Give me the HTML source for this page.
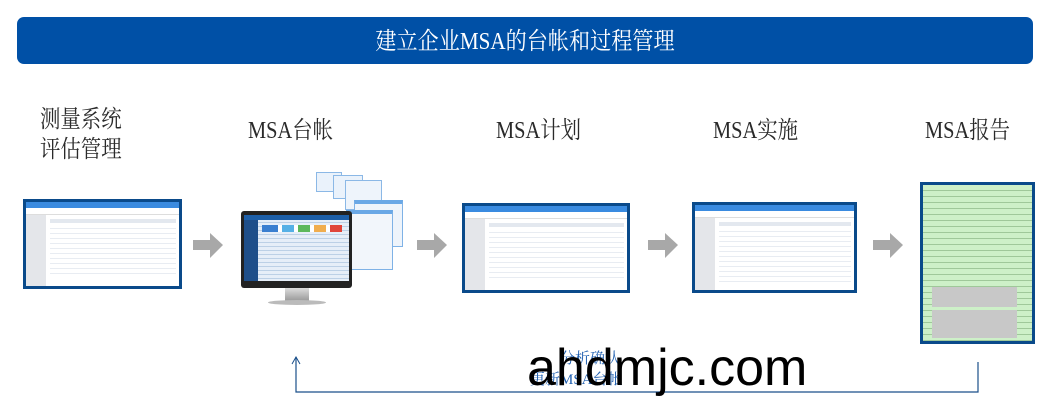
<!DOCTYPE html>
<html><head><meta charset="utf-8"><style>
body{margin:0;width:1054px;height:415px;background:#fff;position:relative;overflow:hidden;font-family:"Liberation Serif","Noto Serif CJK SC",serif}
.a{position:absolute}
.hdr{left:17px;top:17px;width:1016px;height:47px;background:#0050a6;border-radius:7px;color:#fff;font-size:24px;text-align:center;line-height:50px}
.hdr span{display:inline-block;transform:scaleX(0.88)}
.lbl{font-size:24px;color:#2a2a2a;transform-origin:0 0;transform:scaleX(0.85);white-space:nowrap}
.shot{border:3px solid #0a4a8a;background:#fff;box-sizing:border-box;overflow:hidden}
.shot .top{height:6px;background:#3a8be0}
.shot .nav{height:6px;background:#fff;border-bottom:1px solid #ddd}
.shot .side{position:absolute;left:0;top:13px;bottom:0;width:20px;background:#e4e6ea}
.shot .tbl{position:absolute;left:24px;right:3px;top:22px;bottom:8px;background:repeating-linear-gradient(#fff 0 4px,#e8ecf2 4px 5px),#fff}
.shot .tbl:before{content:"";position:absolute;left:0;right:0;top:-5px;height:4px;background:#e3e8ef}
</style></head><body>
<div class="a hdr"><span>建立企业MSA的台帐和过程管理</span></div>
<div class="a lbl" style="left:40px;top:105px;line-height:30px">测量系统<br>评估管理</div>
<div class="a lbl" style="left:248px;top:110px">MSA台帐</div>
<div class="a lbl" style="left:496px;top:110px">MSA计划</div>
<div class="a lbl" style="left:713px;top:110px">MSA实施</div>
<div class="a lbl" style="left:925px;top:110px">MSA报告</div>

<div class="a shot" style="left:23px;top:199px;width:159px;height:90px"><div class="top"></div><div class="nav"></div><div class="side"></div><div class="tbl"></div></div>
<div class="a shot" style="left:462px;top:203px;width:168px;height:90px"><div class="top"></div><div class="nav"></div><div class="side"></div><div class="tbl"></div></div>
<div class="a shot" style="left:692px;top:202px;width:165px;height:91px"><div class="top"></div><div class="nav"></div><div class="side"></div><div class="tbl"></div></div>

<!-- cascading windows -->
<div class="a" style="left:316px;top:172px;width:24px;height:18px;background:#eaf2fb;border:1px solid #8bb8e6"></div>
<div class="a" style="left:333px;top:175px;width:28px;height:22px;background:#eaf2fb;border:1px solid #8bb8e6"></div>
<div class="a" style="left:345px;top:180px;width:35px;height:28px;background:#eef4fb;border:1px solid #8bb8e6"></div>
<div class="a" style="left:354px;top:200px;width:47px;height:42px;background:#eef4fb;border:1px solid #7fb2e6;border-top:4px solid #6aa8e6"></div>
<div class="a" style="left:346px;top:210px;width:45px;height:55px;background:#f2f6fb;border:1px solid #7fb2e6;border-top:4px solid #6aa8e6"></div>
<!-- monitor -->
<div class="a" style="left:241px;top:211px;width:111px;height:77px;background:#222;border-radius:3px"></div>
<div class="a" style="left:244px;top:215px;width:105px;height:66px;background:repeating-linear-gradient(#e6eef8 0 3px,#bcd0e6 3px 4px)"></div>
<div class="a" style="left:244px;top:215px;width:105px;height:5px;background:#1d5fa8"></div>
<div class="a" style="left:244px;top:220px;width:14px;height:61px;background:#1f4f8a"></div>
<div class="a" style="left:262px;top:225px;width:80px;height:7px;background:linear-gradient(90deg,#3a7fd0 0 20%,#fff 20% 25%,#55b0e6 25% 40%,#fff 40% 45%,#5cb85c 45% 60%,#fff 60% 65%,#f0ad4e 65% 80%,#fff 80% 85%,#e0453a 85%)"></div>
<div class="a" style="left:285px;top:288px;width:24px;height:13px;background:linear-gradient(#ddd,#999)"></div>
<div class="a" style="left:268px;top:300px;width:58px;height:5px;background:#bbb;border-radius:50%"></div>

<!-- report -->
<div class="a" style="left:920px;top:182px;width:115px;height:162px;border:3px solid #0a4a8a;box-sizing:border-box;background:repeating-linear-gradient(#cdf0c8 0 5px,#9fc89a 5px 6px)"></div>
<div class="a" style="left:932px;top:310px;width:85px;height:28px;background:#c8c8c8"></div>
<div class="a" style="left:932px;top:287px;width:85px;height:20px;background:#c8c8c8"></div>

<svg class="a" style="left:0;top:0" width="1054" height="415">
<g fill="#a8a8a8">
<polygon points="193,240 210,240 210,233 223,245 210,258 210,250 193,250"/>
<polygon points="417,240 434,240 434,233 447,245 434,258 434,250 417,250"/>
<polygon points="648,240 665,240 665,233 678,245 665,258 665,250 648,250"/>
<polygon points="873,240 890,240 890,233 903,245 890,258 890,250 873,250"/>
</g>
<polyline points="296,357 296,392 978,392 978,362" fill="none" stroke="#1a4f8a" stroke-width="1.2"/>
<polyline points="292,364 296,357 300,364" fill="none" stroke="#1a4f8a" stroke-width="1"/>
</svg>
<div class="a" style="left:560px;top:349px;font-size:15px;color:#1f5fb0;line-height:20px">分析确认</div>
<div class="a" style="left:530px;top:370px;font-size:15px;color:#1f5fb0;line-height:20px">更新MSA台帐</div>
<div class="a" style="left:527px;top:338px;font-size:52px;color:#000;font-family:'Liberation Sans',sans-serif;line-height:60px">ahdmjc.com</div>
</body></html>
